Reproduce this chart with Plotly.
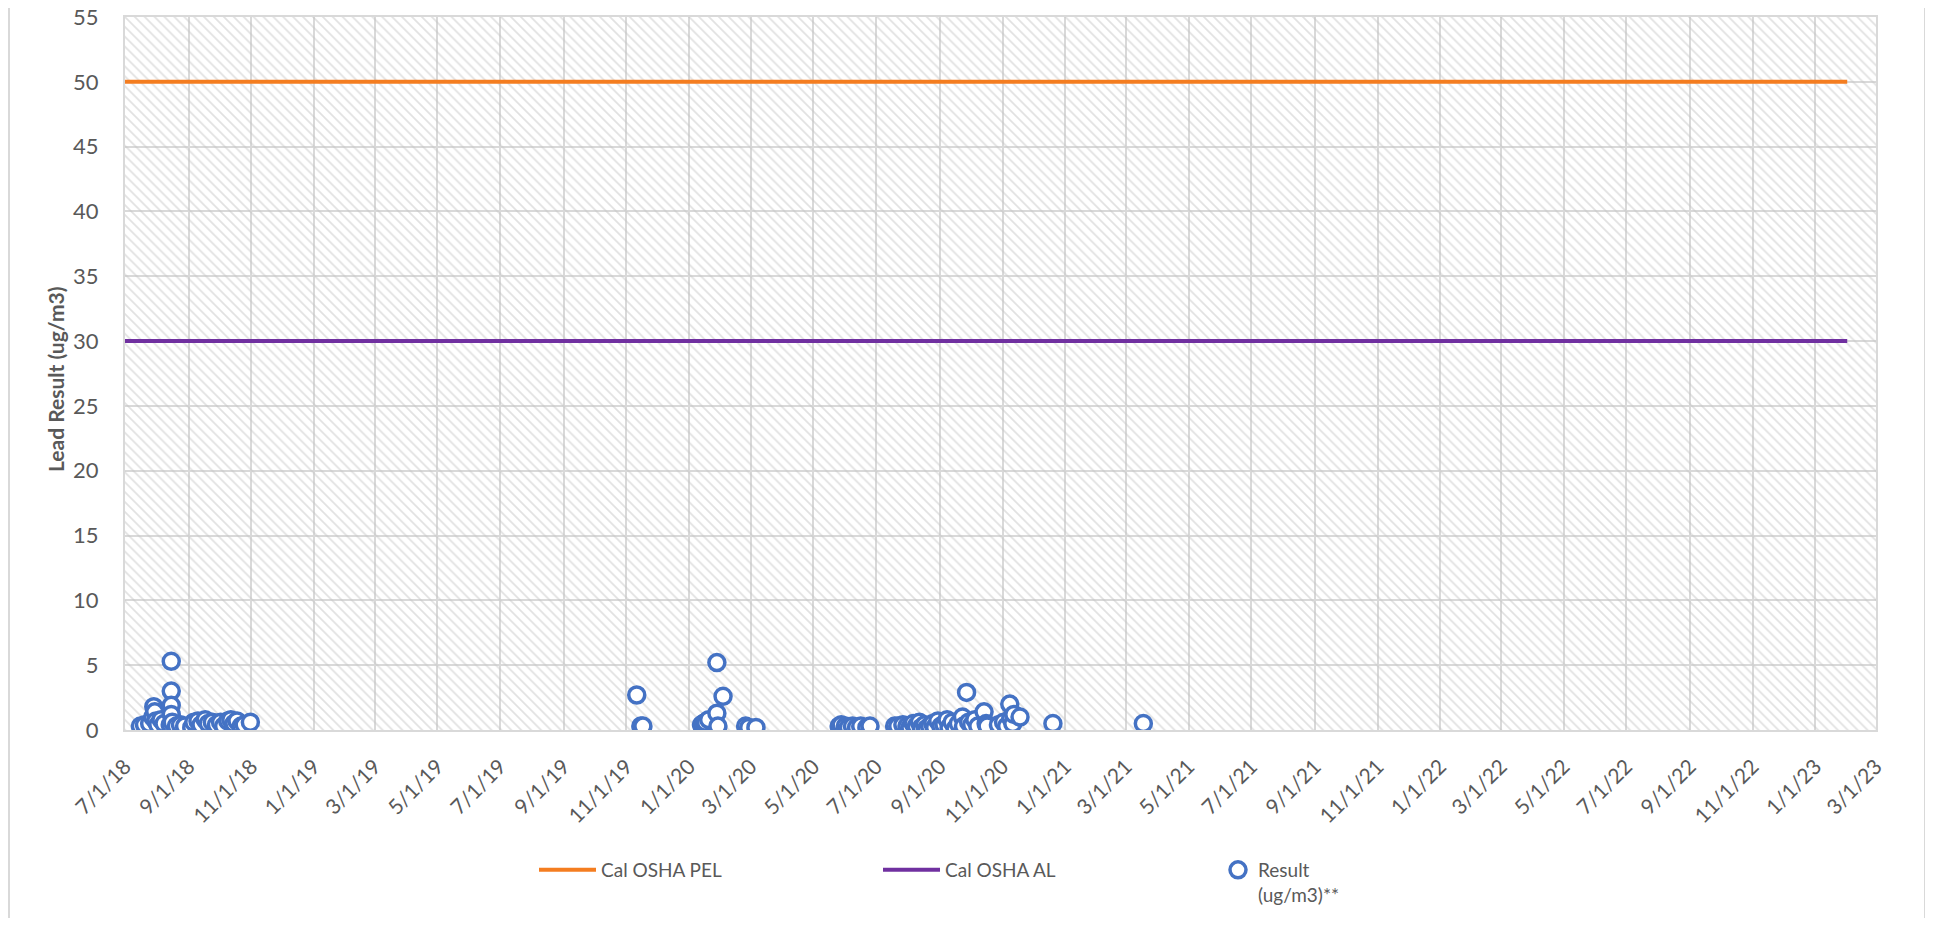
import plotly.graph_objects as go

# ---------------- data ----------------
limit_dates = ["2018-07-01", "2023-02-01"]
pel_values = [50, 50]
al_values = [30, 30]

result_dates = [
    "2018-07-16", "2018-07-20", "2018-07-25", "2018-07-28", "2018-07-29", "2018-07-30",
    "2018-07-31", "2018-08-02", "2018-08-05", "2018-08-08", "2018-08-14", "2018-08-15",
    "2018-08-15", "2018-08-15", "2018-08-15", "2018-08-16", "2018-08-20", "2018-08-24",
    "2018-08-28", "2018-09-04", "2018-09-06", "2018-09-10", "2018-09-13", "2018-09-17",
    "2018-09-20", "2018-09-24", "2018-09-28", "2018-10-02", "2018-10-05", "2018-10-09",
    "2018-10-12", "2018-10-15", "2018-10-18", "2018-10-22", "2018-10-25", "2018-10-31",
    "2019-11-11", "2019-11-15", "2019-11-17",
    "2020-01-13", "2020-01-15", "2020-01-17", "2020-01-20", "2020-01-28", "2020-01-28",
    "2020-01-29", "2020-02-03", "2020-02-25", "2020-02-28", "2020-03-06",
    "2020-05-26", "2020-05-28", "2020-06-01", "2020-06-04", "2020-06-08", "2020-06-12",
    "2020-06-16", "2020-06-22", "2020-06-25",
    "2020-07-19", "2020-07-22", "2020-07-27", "2020-07-31", "2020-08-03", "2020-08-06",
    "2020-08-09", "2020-08-12", "2020-08-14", "2020-08-17", "2020-08-19", "2020-08-22",
    "2020-08-25", "2020-08-27", "2020-08-30", "2020-09-02", "2020-09-05", "2020-09-08",
    "2020-09-10", "2020-09-13", "2020-09-16", "2020-09-19", "2020-09-23", "2020-09-24",
    "2020-09-27", "2020-09-29", "2020-10-02", "2020-10-05", "2020-10-08", "2020-10-14",
    "2020-10-16", "2020-10-17", "2020-10-28", "2020-11-02", "2020-11-05", "2020-11-08",
    "2020-11-09", "2020-11-11", "2020-11-12", "2020-11-18",
    "2020-12-20", "2021-03-18",
]
result_values = [
    0.3, 0.4, 0.5, 1.0, 1.8, 1.4,
    0.7, 0.4, 0.8, 0.5, 0.4, 5.3,
    3.0, 1.9, 1.2, 0.6, 0.3, 0.4,
    0.3, 0.2, 0.6, 0.7, 0.4, 0.8,
    0.5, 0.6, 0.4, 0.6, 0.3, 0.7,
    0.8, 0.5, 0.7, 0.3, 0.4, 0.6,
    2.7, 0.3, 0.3,
    0.4, 0.5, 0.6, 0.8, 5.2, 1.3,
    0.3, 2.6, 0.3, 0.2, 0.2,
    0.3, 0.4, 0.3, 0.2, 0.3, 0.2,
    0.3, 0.2, 0.3,
    0.3, 0.3, 0.4, 0.3, 0.2, 0.5,
    0.3, 0.6, 0.2, 0.4, 0.1, 0.3,
    0.5, 0.2, 0.7, 0.3, 0.4, 0.8,
    0.2, 0.6, 0.1, 0.5, 1.0, 0.3,
    2.9, 0.6, 0.4, 0.8, 0.3, 1.4,
    0.5, 0.3, 0.4, 0.6, 0.3, 2.0,
    0.9, 0.5, 1.2, 1.0,
    0.5, 0.5,
]

tick_dates = [
    "2018-07-01", "2018-09-01", "2018-11-01", "2019-01-01", "2019-03-01", "2019-05-01",
    "2019-07-01", "2019-09-01", "2019-11-01", "2020-01-01", "2020-03-01", "2020-05-01",
    "2020-07-01", "2020-09-01", "2020-11-01", "2021-01-01", "2021-03-01", "2021-05-01",
    "2021-07-01", "2021-09-01", "2021-11-01", "2022-01-01", "2022-03-01", "2022-05-01",
    "2022-07-01", "2022-09-01", "2022-11-01", "2023-01-01", "2023-03-01",
]
tick_labels = [
    "7/1/18", "9/1/18", "11/1/18", "1/1/19", "3/1/19", "5/1/19",
    "7/1/19", "9/1/19", "11/1/19", "1/1/20", "3/1/20", "5/1/20",
    "7/1/20", "9/1/20", "11/1/20", "1/1/21", "3/1/21", "5/1/21",
    "7/1/21", "9/1/21", "11/1/21", "1/1/22", "3/1/22", "5/1/22",
    "7/1/22", "9/1/22", "11/1/22", "1/1/23", "3/1/23",
]
y_tick_values = [0, 5, 10, 15, 20, 25, 30, 35, 40, 45, 50, 55]

x_range = ["2018-07-01", "2023-03-01"]
y_range = [0, 55]

FONT = "Lato, Calibri, Carlito, sans-serif"
GRID = "#D9D9D9"
TXT = "#595959"

# plot area in page pixels (page body has an 8px margin)
BODY = 8
PL, PR, PT, PB = 125, 1876, 17, 730
W, H = 1933 - 2 * BODY, 926 - 2 * BODY
PW = PR - PL
PH = PB - PT


def px_x(px):
    return (px - PL) / PW


def px_y(py):
    return (PB - py) / PH


fig = go.Figure()

# hatched plot-area background (Excel pattern fill)
fig.add_trace(go.Scatter(
    x=[x_range[0], x_range[1], x_range[1], x_range[0], x_range[0]],
    y=[y_range[0], y_range[0], y_range[1], y_range[1], y_range[0]],
    mode="none", fill="toself", fillcolor="rgba(0,0,0,0)",
    fillpattern=dict(shape="\\", size=7, solidity=0.25, fgcolor="#C4C4C4",
                     bgcolor="rgba(0,0,0,0)", fillmode="overlay"),
    hoverinfo="skip", showlegend=False,
))

fig.add_trace(go.Scatter(
    x=limit_dates, y=pel_values, mode="lines", name="Cal OSHA PEL",
    line=dict(color="#F47D20", width=4), legend="legend",
))
fig.add_trace(go.Scatter(
    x=limit_dates, y=al_values, mode="lines", name="Cal OSHA AL",
    line=dict(color="#7030A0", width=4), legend="legend2",
))
fig.add_trace(go.Scatter(
    x=result_dates, y=result_values, mode="markers", name="Result<br>(ug/m3)**",
    marker=dict(symbol="circle", size=16, color="white",
                line=dict(color="#4472C4", width=3.5)),
    legend="legend3",
))

# outer chart frame (left & right edges)
for xp in [px_x(9), px_x(1925)]:
    fig.add_shape(type="line", xref="paper", yref="paper", x0=xp, x1=xp,
                  y0=-0.4, y1=1.2, line=dict(color=GRID, width=2))

# y-axis title placed like Excel's
fig.add_annotation(text="<b>Lead Result (ug/m3)</b>", xref="paper", yref="paper",
                   x=px_x(55), y=px_y(380), textangle=-90, showarrow=False,
                   xanchor="center", yanchor="middle",
                   font=dict(size=21, color=TXT, family=FONT))

leg_common = dict(orientation="h", yanchor="top", xanchor="left", valign="top",
                  bgcolor="rgba(0,0,0,0)", font=dict(size=19, color=TXT, family=FONT))

fig.update_layout(
    width=W, height=H,
    margin=dict(l=PL - BODY, r=W - (PR - BODY), t=PT - BODY, b=H - (PB - BODY),
                autoexpand=False),
    paper_bgcolor="white", plot_bgcolor="white",
    font=dict(family=FONT, color=TXT, size=20),
    showlegend=True,
    legend=dict(x=px_x(534), y=px_y(851), itemwidth=57, **leg_common),
    legend2=dict(x=px_x(878), y=px_y(851), itemwidth=57, **leg_common),
    legend3=dict(x=px_x(1218), y=px_y(851), **leg_common),
    xaxis=dict(
        type="date", range=x_range, tickvals=tick_dates, ticktext=tick_labels,
        tickangle=-45, showgrid=True, gridcolor=GRID, gridwidth=2,
        showline=True, linecolor=GRID, linewidth=2, mirror=True,
        ticks="", ticklabelstandoff=14, zeroline=False, automargin=False,
        ticklabeloverflow="allow",
        tickfont=dict(size=21, color=TXT, family=FONT),
    ),
    yaxis=dict(
        range=y_range, tickmode="array", tickvals=y_tick_values,
        showgrid=True, gridcolor=GRID, gridwidth=2,
        showline=True, linecolor=GRID, linewidth=2, mirror=True,
        ticks="", ticklabelstandoff=20, zeroline=False, automargin=False,
        ticklabeloverflow="allow",
        tickfont=dict(size=22, color=TXT, family=FONT),
    ),
)

fig.write_html("out.html")
